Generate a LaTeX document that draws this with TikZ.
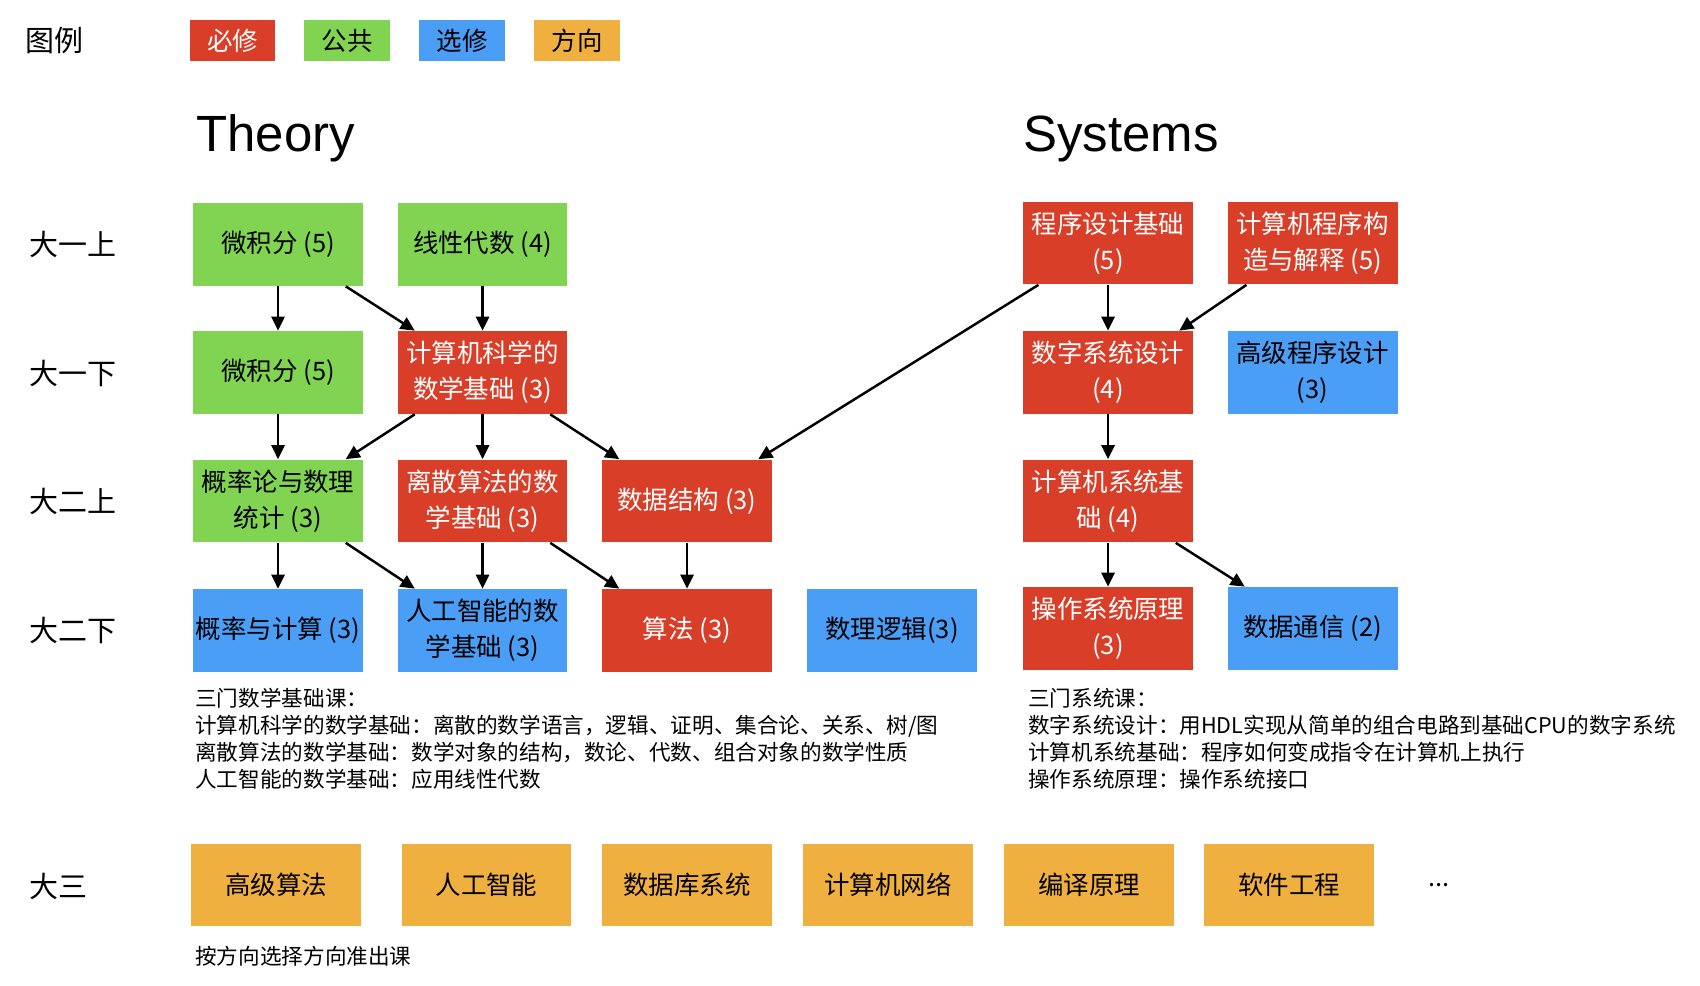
\documentclass[tikz,border=0pt]{standalone}
\usepackage{fontspec}
\setmainfont{Noto Sans CJK SC}
\newfontfamily\headfont{Liberation Sans}
\usetikzlibrary{arrows.meta}
\definecolor{bixiu}{RGB}{217,62,41}
\definecolor{gonggong}{RGB}{128,212,82}
\definecolor{xuanxiu}{RGB}{74,158,245}
\definecolor{fangxiang}{RGB}{240,176,64}
\tikzset{
    box/.style={minimum width=3.4cm, minimum height=1.66cm, inner sep=0pt, align=center,
        font=\fontsize{14.5}{20.5}\selectfont},
    req/.style={box, fill=bixiu, text=white},
    pub/.style={box, fill=gonggong},
    opt/.style={box, fill=xuanxiu},
    dir/.style={box, fill=fangxiang},
    tag/.style={minimum width=1.71cm, minimum height=0.82cm, inner sep=0pt,
        font=\fontsize{14.5}{17}\selectfont},
    yearlbl/.style={anchor=west, inner sep=0pt, font=\fontsize{16.5}{20}\selectfont},
    head/.style={anchor=base west, inner sep=0pt, font=\headfont\fontsize{29}{34}\selectfont},
    note/.style={anchor=north west, inner sep=0pt, align=left, font=\fontsize{12.3}{15.4}\selectfont},
    arr/.style={-{Triangle[length=8pt,width=7.5pt]}, line width=1.4pt},
}

\begin{document}
\begin{tikzpicture}[x=0.02cm, y=-0.02cm]
        \useasboundingbox (0,0) rectangle (1700,986);
        \node[yearlbl] (lg) at (25,41) {图例};
        \node[tag, fill=bixiu, text=white] (kreq) at (232.5,41) {必修};
        \node[tag, fill=gonggong] (kpub) at (347,41) {公共};
        \node[tag, fill=xuanxiu] (kopt) at (462,41) {选修};
        \node[tag, fill=fangxiang] (kdir) at (577,41) {方向};
        \node[head] (th) at (196,152) {Theory};
        \node[head] (sy) at (1023,152) {Systems};

        \node[yearlbl] (y1a) at (29,244) {大一上};
        \node[yearlbl] (y1b) at (29,373) {大一下};
        \node[yearlbl] (y2a) at (29,501) {大二上};
        \node[yearlbl] (y2b) at (29,630) {大二下};
        \node[yearlbl] (y3) at (29,886) {大三};

        \node[pub] (ca) at (278,244.5) {微积分 (5)};
        \node[pub] (la) at (482.5,244.5) {线性代数 (4)};
        \node[pub] (cb) at (278,372.5) {微积分 (5)};
        \node[req] (mcs) at (482.5,372.5) {计算机科学的\\数学基础 (3)};
        \node[pub] (ps) at (278,501) {概率论与数理\\统计 (3)};
        \node[req] (dm) at (482.5,501) {离散算法的数\\学基础 (3)};
        \node[req] (ds) at (687,501) {数据结构 (3)};
        \node[opt] (pc) at (278,630.5) {概率与计算 (3)};
        \node[opt] (ai) at (482.5,630.5) {人工智能的数\\学基础 (3)};
        \node[req] (al) at (687,630.5) {算法 (3)};
        \node[opt] (lo) at (892,630.5) {数理逻辑(3)};

        \node[req] (pf) at (1108,243) {程序设计基础\\(5)};
        \node[req] (sicp) at (1312.5,243) {计算机程序构\\造与解释 (5)};
        \node[req] (dd) at (1108,372.5) {数字系统设计\\(4)};
        \node[opt] (ap) at (1312.5,372.5) {高级程序设计\\(3)};
        \node[req] (cs) at (1108,501) {计算机系统基\\础 (4)};
        \node[req] (os) at (1108,628.5) {操作系统原理\\(3)};
        \node[opt] (dc) at (1312.5,628.5) {数据通信 (2)};

        \node[note] (nt) at (195,688) {三门数学基础课：\\计算机科学的数学基础：离散的数学语言，逻辑、证明、集合论、关系、树/图\\离散算法的数学基础：数学对象的结构，数论、代数、组合对象的数学性质\\人工智能的数学基础：应用线性代数};
        \node[note] (ns) at (1028,688) {三门系统课：\\数字系统设计：用HDL实现从简单的组合电路到基础CPU的数字系统\\计算机系统基础：程序如何变成指令在计算机上执行\\操作系统原理：操作系统接口};

        \node[dir] (e1) at (276,885) {高级算法};
        \node[dir] (e2) at (486.5,885) {人工智能};
        \node[dir] (e3) at (687,885) {数据库系统};
        \node[dir] (e4) at (888,885) {计算机网络};
        \node[dir] (e5) at (1089,885) {编译原理};
        \node[dir] (e6) at (1289,885) {软件工程};
        \node[inner sep=0pt, font=\fontsize{14.5}{17}\selectfont] (more) at (1439,885) {...};
        \node[note, anchor=west] (nb) at (195,956) {按方向选择方向准出课};

        \draw[arr] (ca.south) -- (cb.north);
        \draw[arr] ([xshift=-10pt]ca.south east) -- ([xshift=10pt]mcs.north west);
        \draw[arr] (la.south) -- (mcs.north);
        \draw[arr] (cb.south) -- (ps.north);
        \draw[arr] ([xshift=10pt]mcs.south west) -- ([xshift=-10pt]ps.north east);
        \draw[arr] (mcs.south) -- (dm.north);
        \draw[arr] ([xshift=-10pt]mcs.south east) -- ([xshift=10pt]ds.north west);
        \draw[arr] (ps.south) -- (pc.north);
        \draw[arr] ([xshift=-10pt]ps.south east) -- ([xshift=10pt]ai.north west);
        \draw[arr] (dm.south) -- (ai.north);
        \draw[arr] ([xshift=-10pt]dm.south east) -- ([xshift=10pt]al.north west);
        \draw[arr] (ds.south) -- (al.north);
        \draw[arr] ([xshift=9pt]pf.south west) -- ([xshift=-8pt]ds.north east);
        \draw[arr] (pf.south) -- (dd.north);
        \draw[arr] ([xshift=11pt]sicp.south west) -- ([xshift=-8pt]dd.north east);
        \draw[arr] (dd.south) -- (cs.north);
        \draw[arr] (cs.south) -- (os.north);
        \draw[arr] ([xshift=-10pt]cs.south east) -- ([xshift=10pt]dc.north west);
\end{tikzpicture}
\end{document}
